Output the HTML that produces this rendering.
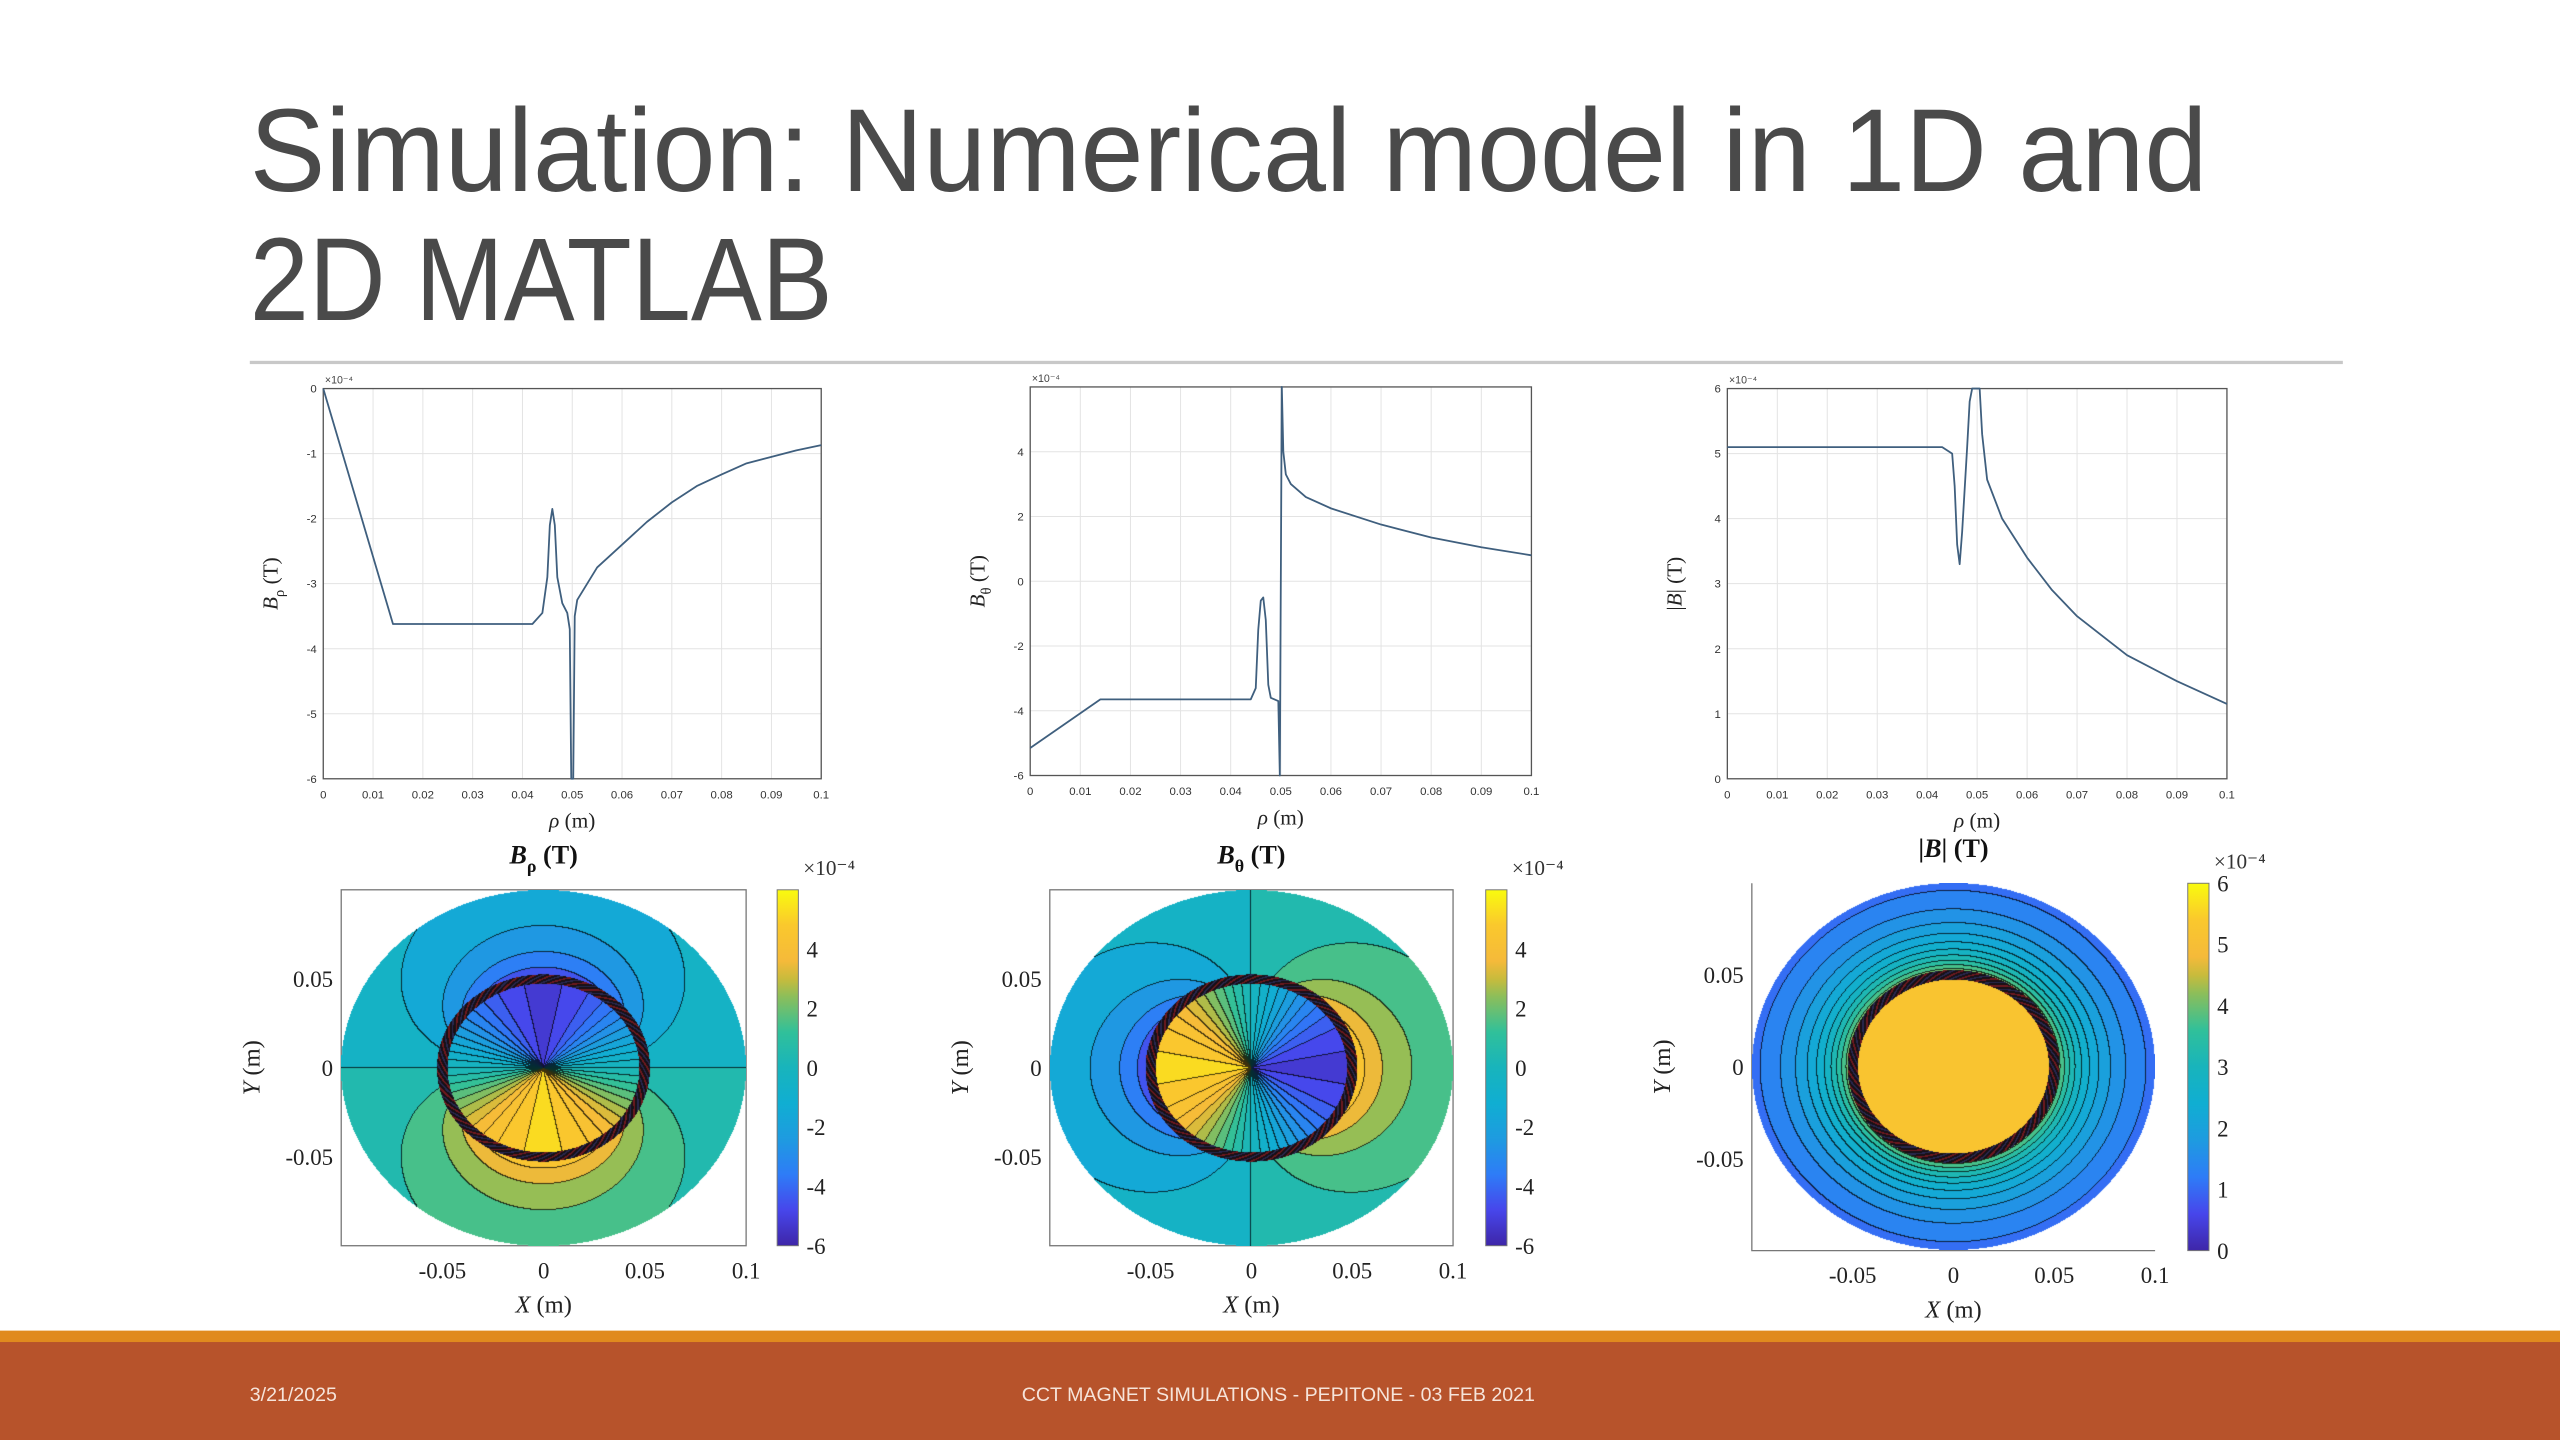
<!DOCTYPE html>
<html><head><meta charset="utf-8"><style>
html,body{margin:0;padding:0;background:#fff;}
#wrap{position:relative;width:2560px;height:1440px;overflow:hidden;background:#fff;}
#svg{position:absolute;left:0;top:0;}
canvas{position:absolute;}
</style></head><body>
<div id="wrap">
<svg id="svg" width="2560" height="1440" viewBox="0 0 1568 882" xmlns="http://www.w3.org/2000/svg">
<defs>
<linearGradient id="parulaV" x1="0" y1="1" x2="0" y2="0">
<stop offset="0" stop-color="#3e26a8"/><stop offset="0.1" stop-color="#4746eb"/><stop offset="0.2" stop-color="#2e7cf7"/><stop offset="0.3" stop-color="#1e9be0"/><stop offset="0.4" stop-color="#10aed2"/><stop offset="0.5" stop-color="#18b4bc"/><stop offset="0.6" stop-color="#30c09a"/><stop offset="0.7" stop-color="#8cbe5a"/><stop offset="0.75" stop-color="#c8bb3c"/><stop offset="0.8" stop-color="#f5ba3a"/><stop offset="0.9" stop-color="#fac82d"/><stop offset="1" stop-color="#f9fb0e"/>
</linearGradient>
</defs>
<text x="153" y="117" font-family="Liberation Sans, sans-serif" font-size="72" fill="#4a4a4a" textLength="1199" lengthAdjust="spacingAndGlyphs">Simulation: Numerical model in 1D and</text>
<text x="153" y="196" font-family="Liberation Sans, sans-serif" font-size="72" fill="#4a4a4a" textLength="357" lengthAdjust="spacingAndGlyphs">2D MATLAB</text>
<rect x="153" y="221" width="1282" height="2" fill="#c8c8c8"/>
<rect x="0" y="815" width="1568" height="8" fill="#e08a1e"/>
<rect x="0" y="822" width="1568" height="60" fill="#b7532b"/>
<text x="153" y="858" font-family="Liberation Sans, sans-serif" font-size="12" fill="#f6e4da">3/21/2025</text>
<text x="783" y="858" text-anchor="middle" font-family="Liberation Sans, sans-serif" font-size="12" fill="#f6e4da">CCT MAGNET SIMULATIONS - PEPITONE - 03 FEB 2021</text>
<g id="charts"></g>
</svg>
</div>
<script>
// ---- 1D line chart data ----
const xTicks1D = [0,0.01,0.02,0.03,0.04,0.05,0.06,0.07,0.08,0.09,0.1];
const xTickLabels1D = ["0","0.01","0.02","0.03","0.04","0.05","0.06","0.07","0.08","0.09","0.1"];
const bRhoX = [0,0.014,0.042,0.044,0.045,0.0455,0.046,0.0465,0.047,0.048,0.049,0.0495,0.0498,0.0502,0.0505,0.051,0.055,0.06,0.065,0.07,0.075,0.08,0.085,0.09,0.095,0.1];
const bRhoY = [0,-3.62,-3.62,-3.45,-2.9,-2.1,-1.85,-2.1,-2.9,-3.3,-3.45,-3.7,-6,-6,-3.5,-3.25,-2.75,-2.4,-2.05,-1.75,-1.5,-1.32,-1.15,-1.05,-0.95,-0.87];
const bRhoYTicks = [0,-1,-2,-3,-4,-5,-6];
const bThetaX = [0,0.014,0.044,0.045,0.0455,0.046,0.0465,0.047,0.0475,0.048,0.0495,0.0498,0.0502,0.0505,0.051,0.052,0.055,0.06,0.07,0.08,0.09,0.1];
const bThetaY = [-5.15,-3.65,-3.65,-3.3,-1.5,-0.6,-0.5,-1.2,-3.2,-3.6,-3.7,-6,6,4,3.3,3,2.6,2.25,1.75,1.35,1.05,0.8];
const bThetaYTicks = [4,2,0,-2,-4,-6];
const bMagX = [0,0.043,0.045,0.0455,0.046,0.0465,0.047,0.048,0.0485,0.049,0.0505,0.051,0.052,0.055,0.06,0.065,0.07,0.08,0.09,0.1];
const bMagY = [5.1,5.1,5.0,4.5,3.6,3.3,3.8,5.1,5.8,6,6,5.3,4.6,4.0,3.4,2.9,2.5,1.9,1.5,1.15];
const bMagYTicks = [0,1,2,3,4,5,6];
// ---- 2D contour data ----
const contourTicks = [-0.05,0,0.05];
const contourXTicks = [-0.05,0,0.05,0.1];
const contourTickLabels = ["-0.05","0","0.05","0.1"];
const fieldInside = [5.1,5.1,5.1];
const fieldOutside = [5.1,5.1,4.4];
const coilRadius = [0.05];
const levelStepInside = [0.5,0.5,0.3];
const levelStepOutside = [1.0,1.0,0.3];
const cbarTicksSigned = [4,2,0,-2,-4,-6];
const cbarTicksMag = [0,1,2,3,4,5,6];

const NS = "http://www.w3.org/2000/svg";
const S = 2560/1568;
const charts = document.getElementById('charts');
function mk(tag, attrs, parent){const e=document.createElementNS(NS,tag);for(const k in attrs)e.setAttribute(k,attrs[k]);(parent||charts).appendChild(e);return e;}

function lineChart(box, xs, ys, yTicks, yLabelMain, yLabelSub, name){
  const g = mk('g',{});
  
  
  const sx = v => box.x0 + (v-0)/0.1*(box.x1-box.x0);
  const sy = v => box.y1 - (v-box.ymin)/(box.ymax-box.ymin)*(box.y1-box.y0);
  xTicks1D.forEach((t,i)=>{
    const gl = mk('line',{x1:sx(t),x2:sx(t),y1:box.y0,y2:box.y1,stroke:'#e3e3e3','stroke-width':0.6},g);
    
    
    const tl = mk('text',{x:sx(t),y:box.y1+12,'text-anchor':'middle','font-family':'Liberation Sans, sans-serif','font-size':7,fill:'#333'},g);
    tl.textContent = xTickLabels1D[i];
    
    
  });
  yTicks.forEach(t=>{
    const gl = mk('line',{x1:box.x0,x2:box.x1,y1:sy(t),y2:sy(t),stroke:'#e3e3e3','stroke-width':0.6},g);
    
    
    const tl = mk('text',{x:box.x0-4,y:sy(t)+2.5,'text-anchor':'end','font-family':'Liberation Sans, sans-serif','font-size':7,fill:'#333'},g);
    tl.textContent = String(t);
    
    
  });
  const rect = mk('rect',{x:box.x0,y:box.y0,width:box.x1-box.x0,height:box.y1-box.y0,fill:'none',stroke:'#555','stroke-width':0.8},g);
  
  
  const pts = xs.map((x,i)=>sx(x).toFixed(2)+','+sy(ys[i]).toFixed(2)).join(' ');
  const pl = mk('polyline',{points:pts,fill:'none',stroke:'#3f5f7e','stroke-width':1.1,'stroke-linejoin':'round'},g);
  
  
  const ex = mk('text',{x:box.x0+1,y:box.y0-3,'font-family':'Liberation Sans, sans-serif','font-size':6.5,fill:'#444'},g);
  ex.textContent = '×10⁻⁴';
  
  
  const xl = mk('text',{x:(box.x0+box.x1)/2,y:box.y1+30,'text-anchor':'middle','font-family':'Liberation Serif, serif','font-size':13,fill:'#222'},g);
  xl.innerHTML = '<tspan font-style="italic">ρ</tspan> (m)';
  
  
  const cy = (box.y0+box.y1)/2, cx = box.x0-28;
  const yl = mk('text',{x:cx,y:cy,'text-anchor':'middle','font-family':'Liberation Serif, serif','font-size':13,fill:'#222',transform:`rotate(-90 ${cx} ${cy})`},g);
  yl.innerHTML = yLabelMain + (yLabelSub?'<tspan font-size="9" dy="4">'+yLabelSub+'</tspan><tspan dy="-4"> (T)</tspan>':' (T)');
  
  
}
lineChart({x0:198,x1:503,y0:238,y1:477,ymin:-6,ymax:0}, bRhoX, bRhoY, bRhoYTicks, '<tspan font-style="italic">B</tspan>', 'ρ', 'b-rho-line-chart');
lineChart({x0:631,x1:938,y0:237,y1:475,ymin:-6,ymax:6}, bThetaX, bThetaY, bThetaYTicks, '<tspan font-style="italic">B</tspan>', 'θ', 'b-theta-line-chart');
lineChart({x0:1058,x1:1364,y0:238,y1:477,ymin:0,ymax:6}, bMagX, bMagY, bMagYTicks, '|<tspan font-style="italic">B</tspan>|', '', 'b-mag-line-chart');

// parula approx
const PAR = [[0,62,38,168],[0.1,71,70,235],[0.2,46,124,247],[0.3,30,155,224],[0.4,16,174,210],[0.5,24,180,188],[0.6,48,192,154],[0.7,140,190,90],[0.75,200,187,60],[0.8,245,186,58],[0.9,250,200,45],[1,249,251,14]];
function parula(t){t=Math.max(0,Math.min(1,t));for(let i=1;i<PAR.length;i++){if(t<=PAR[i][0]){const a=PAR[i-1],b=PAR[i],f=(t-a[0])/(b[0]-a[0]);return [a[1]+f*(b[1]-a[1]),a[2]+f*(b[2]-a[2]),a[3]+f*(b[3]-a[3])];}}return PAR[PAR.length-1].slice(1);}

function contourPlot(box, kind, idx, vmin, vmax, cbar, cbTicks, titleHTML, name, fullBox){
  const g = mk('g',{});
  
  
  const sx = v => box.x0 + (v+0.1)/0.2*(box.x1-box.x0);
  const sy = v => box.y1 - (v+0.1)/0.2*(box.y1-box.y0);
  const cv = document.createElement('canvas');
  
  
  const W = Math.round((box.x1-box.x0)*S), H = Math.round((box.y1-box.y0)*S);
  cv.width=W; cv.height=H;
  cv.style.left=(box.x0*S)+'px'; cv.style.top=(box.y0*S)+'px';
  cv.style.width=W+'px'; cv.style.height=H+'px';
  document.getElementById('wrap').appendChild(cv);
  const ctx = cv.getContext('2d'); const img = ctx.createImageData(W,H);
  const R = coilRadius[0], Bi = fieldInside[idx], Bo = fieldOutside[idx];
  const lev = new Int32Array(W*H), inD = new Uint8Array(W*H), cen = new Float32Array(W*H);
  for(let j=0;j<H;j++)for(let i=0;i<W;i++){
    const X=-0.1+0.2*(i+0.5)/W, Y=0.1-0.2*(j+0.5)/H, r=Math.hypot(X,Y), th=Math.atan2(Y,X);
    const k=j*W+i; if(r>0.1){inD[k]=0;continue;} inD[k]=1;
    const f=(R/r)*(R/r); let v;
    if(kind==='rho') v = r<R ? -Bi*Math.sin(th) : -Bo*f*Math.sin(th);
    else if(kind==='theta') v = r<R ? -Bi*Math.cos(th) : Bo*f*Math.cos(th);
    else v = r<R ? Bi : Bo*f;
    const st = r<R ? levelStepInside[idx] : levelStepOutside[idx];
    const L = Math.floor(v/st);
    lev[k] = L*2 + (r<R?1:0) + 100000; cen[k]=(L+0.5)*st;
  }
  for(let j=0;j<H;j++)for(let i=0;i<W;i++){
    const k=j*W+i,p=k*4; if(!inD[k]){img.data[p+3]=0;continue;}
    const X=-0.1+0.2*(i+0.5)/W, Y=0.1-0.2*(j+0.5)/H, r=Math.hypot(X,Y);
    let c;
    const dr = Math.abs(r-R);
    if(dr<0.0026){ const th=Math.atan2(Y,X); const n=Math.sin(th*37+r*1500); c = n>0.75?[110,25,30]:(n<-0.8?[40,40,80]:[22,16,22]); }
    else {
      c = parula((cen[k] - vmin)/(vmax-vmin));
      const edge = (i+1<W && inD[k+1] && lev[k+1]!==lev[k]) || (j+1<H && inD[k+W] && lev[k+W]!==lev[k]);
      if(edge && (kind!=='mag' || r>R)) c=[c[0]*0.25,c[1]*0.25,c[2]*0.25];
    }
    img.data[p]=c[0];img.data[p+1]=c[1];img.data[p+2]=c[2];img.data[p+3]=255;
  }
  ctx.putImageData(img,0,0);
  if(fullBox){
    const rb = mk('rect',{x:box.x0,y:box.y0,width:box.x1-box.x0,height:box.y1-box.y0,fill:'none',stroke:'#777','stroke-width':0.8},g);
    
    
  } else {
    const ax = mk('path',{d:`M${box.x0},${box.y0} V${box.y1} H${box.x1}`,fill:'none',stroke:'#777','stroke-width':0.8},g);
    
    
  }
  contourXTicks.forEach((t,i)=>{
    const tl = mk('text',{x:sx(t),y:box.y1+20,'text-anchor':'middle','font-family':'Liberation Serif, serif','font-size':14,fill:'#222'},g);
    tl.textContent = contourTickLabels[i];
    
    
  });
  contourTicks.forEach(t=>{
    const tl = mk('text',{x:box.x0-5,y:sy(t)+5,'text-anchor':'end','font-family':'Liberation Serif, serif','font-size':14,fill:'#222'},g);
    tl.textContent = String(t);
    
    
  });
  const xl = mk('text',{x:(box.x0+box.x1)/2,y:box.y1+41,'text-anchor':'middle','font-family':'Liberation Serif, serif','font-size':15,fill:'#222'},g);
  xl.innerHTML = '<tspan font-style="italic">X</tspan> (m)';
  
  
  const cx = box.x0-50, cy=(box.y0+box.y1)/2;
  const yl = mk('text',{x:cx,y:cy,'text-anchor':'middle','font-family':'Liberation Serif, serif','font-size':15,fill:'#222',transform:`rotate(-90 ${cx} ${cy})`},g);
  yl.innerHTML = '<tspan font-style="italic">Y</tspan> (m)';
  
  
  const tt = mk('text',{x:(box.x0+box.x1)/2,y:box.y0-16,'text-anchor':'middle','font-family':'Liberation Serif, serif','font-size':16,'font-weight':'bold',fill:'#111'},g);
  tt.innerHTML = titleHTML;
  
  
  const cb = mk('rect',{x:cbar.x,y:box.y0,width:13,height:box.y1-box.y0,fill:'url(#parulaV)',stroke:'#777','stroke-width':0.6},g);
  
  
  cbTicks.forEach(t=>{
    const y = box.y1 - (t-vmin)/(vmax-vmin)*(box.y1-box.y0);
    const tl = mk('text',{x:cbar.x+18,y:y+5,'font-family':'Liberation Serif, serif','font-size':14,fill:'#222'},g);
    tl.textContent = String(t);
    
    
  });
  const ce = mk('text',{x:cbar.x+16,y:box.y0-9,'font-family':'Liberation Serif, serif','font-size':13,fill:'#333'},g);
  ce.textContent = '×10⁻⁴';
  
  
}
contourPlot({x0:209,x1:457,y0:545,y1:763}, 'rho', 0, -6, 6, {x:476}, cbarTicksSigned, '<tspan font-style="italic">B</tspan><tspan font-size="11" dy="5">ρ</tspan><tspan dy="-5"> (T)</tspan>', 'b-rho-contour', true);
contourPlot({x0:643,x1:890,y0:545,y1:763}, 'theta', 1, -6, 6, {x:910}, cbarTicksSigned, '<tspan font-style="italic">B</tspan><tspan font-size="11" dy="5">θ</tspan><tspan dy="-5"> (T)</tspan>', 'b-theta-contour', true);
contourPlot({x0:1073,x1:1320,y0:541,y1:766}, 'mag', 2, 0, 6, {x:1340}, cbarTicksMag, '|<tspan font-style="italic">B</tspan>| (T)', 'b-mag-contour', false);
</script>
</body></html>
